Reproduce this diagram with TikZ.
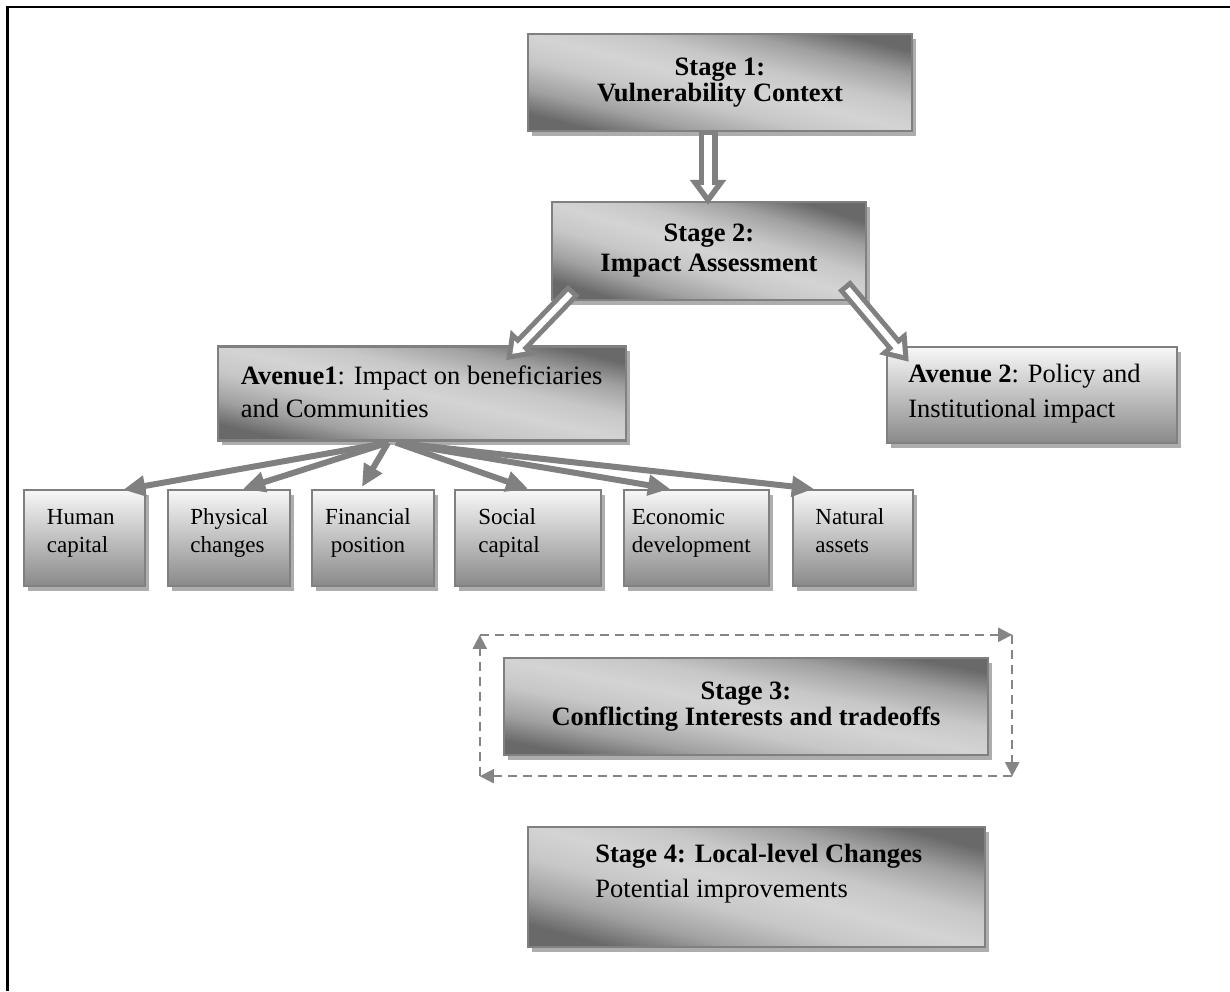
\documentclass[tikz,border=0pt]{standalone}
\usepackage{fontspec}
\setmainfont{Liberation Serif}
\usetikzlibrary{arrows.meta,calc,shadows}

\definecolor{rimgray}{gray}{0.50}
\definecolor{shdark}{gray}{0.41}
\definecolor{shmid}{gray}{0.63}
\definecolor{shsoft}{gray}{0.78}
\definecolor{shlight}{gray}{0.83}
\definecolor{shadowgray}{gray}{0.68}
\definecolor{dashgray}{gray}{0.52}

% dark - light - dark band, laid along the diagonal of the stage boxes
\pgfdeclarehorizontalshading{stageshade}{100bp}{%
  color(0bp)=(shdark); color(25bp)=(shdark); color(33bp)=(shmid);
  color(42bp)=(shsoft); color(50bp)=(shlight); color(58bp)=(shsoft);
  color(67bp)=(shmid); color(75bp)=(shdark); color(100bp)=(shdark)}

\newcommand{\bigfont}[1]{\fontsize{13.25pt}{#1}\selectfont}
\newcommand{\smallfont}{\fontsize{11.5pt}{14pt}\selectfont}

\tikzset{
  boxbase/.style={draw=rimgray, line width=1.2pt, inner sep=0pt,
    drop shadow={shadow xshift=2.2pt, shadow yshift=-2.4pt, fill=shadowgray, opacity=1}},
  stagebox/.style={boxbase, shading=stageshade, shading angle=#1},
  stagebox/.default=76,
  fadebox/.style={boxbase, top color=black!3, bottom color=black!46},
  smallbox/.style={fadebox, minimum width=#1, minimum height=48pt},
  boxtext/.style={anchor=north west, inner sep=0pt, align=left},
  hollowbig/.style={draw=rimgray, line width=9.5pt,
    -{Triangle[width=17.5pt,length=12.5pt]},
    postaction={draw=white, line width=4pt, -{Triangle[width=7pt,length=5pt]},
      shorten >=4.8pt, shorten <=2.5pt}},
  hollowsmall/.style={draw=rimgray, line width=8pt,
    -{Triangle[width=17pt,length=12.5pt]},
    postaction={draw=white, line width=3pt, -{Triangle[width=7.5pt,length=5.5pt]},
      shorten >=4.45pt, shorten <=2.5pt}},
  fanarrow/.style={draw=rimgray, line width=3pt, -{Triangle[width=10pt,length=11pt]}},
  cyclearrow/.style={draw=dashgray, line width=1pt, dash pattern=on 4.5pt off 3pt,
    -{Triangle[width=7pt,length=7pt]}},
}

\begin{document}
\begin{tikzpicture}[x=0.5pt, y=-0.5pt]
\useasboundingbox (0,0) rectangle (1230,991);

% page frame
\draw[line width=1.15pt] (7.5,991) -- (7.5,7) -- (1230,7);

% stages and avenues
\node[stagebox=76, minimum width=192pt, minimum height=48.5pt, align=center,
      font=\bigfont{12pt}\bfseries] (s1) at (720,82.5) {Stage 1:\\Vulnerability Context};
\node[stagebox=73, minimum width=157pt, minimum height=49pt, align=center,
      font=\bigfont{15pt}\bfseries] (s2) at (709,251) {Stage 2:\\Impact Assessment};
\node[stagebox=77, minimum width=204pt, minimum height=47pt] (av1) at (422,393.5) {};
\node[fadebox, minimum width=145pt, minimum height=48pt] (av2) at (1032,395) {};
\node[boxtext, font=\bigfont{16.5pt}] (av1txt) at (240.5,361)
  {\strut\textbf{Avenue1}: Impact on beneficiaries\\and Communities};
\node[boxtext, font=\bigfont{17.5pt}] (av2txt) at (908,357.2)
  {\strut\textbf{Avenue 2}: Policy and\\Institutional impact};

% impact areas
\node[smallbox=60.5pt] (hum) at (84.5,538) {};
\node[smallbox=61pt]   (phy) at (229,538) {};
\node[smallbox=61pt]   (fin) at (373,538) {};
\node[smallbox=73pt]   (soc) at (528,538) {};
\node[smallbox=72.5pt] (eco) at (696.5,538) {};
\node[smallbox=60pt]   (nat) at (853,538) {};
\node[boxtext, font=\smallfont] (humtxt) at (46.5,504.4) {\strut Human\\capital};
\node[boxtext, font=\smallfont] (phytxt) at (190,504.4) {\strut Physical\\changes};
\node[boxtext, anchor=north, align=center, font=\smallfont] (fintxt) at (368,504.4) {\strut Financial\\position};
\node[boxtext, font=\smallfont] (soctxt) at (478,504.4) {\strut Social\\capital};
\node[boxtext, font=\smallfont] (ecotxt) at (631.5,504.4) {\strut Economic\\development};
\node[boxtext, font=\smallfont] (nattxt) at (815,504.4) {\strut Natural\\assets};

% stages 3 and 4
\node[stagebox=79, minimum width=242pt, minimum height=48.5pt, align=center,
      font=\bigfont{13pt}\bfseries] (s3) at (746,706.5) {Stage 3:\\Conflicting Interests and tradeoffs};
\node[stagebox=75, minimum width=228.5pt, minimum height=60pt] (s4) at (756.5,887) {};
\node[boxtext, font=\bigfont{17.5pt}] (s4txt) at (595,837.2)
  {\strut\textbf{Stage 4: Local-level Changes}\\Potential improvements};

% hollow block arrows
\draw[hollowbig] ([xshift=-6pt,yshift=1pt]s1.south) -- ([xshift=-0.5pt,yshift=-2pt]s2.north);
\draw[hollowsmall] ([xshift=11.5pt,yshift=5.5pt]s2.south west) -- ([xshift=-60.5pt,yshift=-7.5pt]av1.north east);
\draw[hollowsmall] ([xshift=-11.5pt,yshift=8pt]s2.south east) -- ([xshift=11.5pt,yshift=-8pt]av2.north west);

% fan from avenue 1 to the impact areas
\draw[fanarrow] ([xshift=-17pt,yshift=-0.5pt]av1.south) -- ([xshift=-11.5pt,yshift=-0.5pt]hum.north east);
\draw[fanarrow] ([xshift=-17pt,yshift=-0.5pt]av1.south) -- ([xshift=-24pt]phy.north east);
\draw[fanarrow] ([xshift=-17pt,yshift=-0.5pt]av1.south) -- ([xshift=-5.5pt,yshift=1pt]fin.north);
\draw[fanarrow] ([xshift=-13pt,yshift=-0.5pt]av1.south) -- (soc.north);
\draw[fanarrow] ([xshift=-13pt,yshift=-0.5pt]av1.south) -- ([xshift=-13.25pt]eco.north);
\draw[fanarrow] ([xshift=-13pt,yshift=-0.5pt]av1.south) -- ([xshift=11pt]nat.north west);

% dashed cycle round stage 3
\coordinate (c1) at ([xshift=-11.5pt,yshift=11pt]s3.north west);
\coordinate (c2) at ([xshift=11.5pt,yshift=11pt]s3.north east);
\coordinate (c3) at ([xshift=11.5pt,yshift=-10pt]s3.south east);
\coordinate (c4) at ([xshift=-11.5pt,yshift=-10pt]s3.south west);
\draw[cyclearrow] (c1) -- (c2);
\draw[cyclearrow] (c2) -- (c3);
\draw[cyclearrow] (c3) -- (c4);
\draw[cyclearrow] (c4) -- (c1);
\end{tikzpicture}
\end{document}
